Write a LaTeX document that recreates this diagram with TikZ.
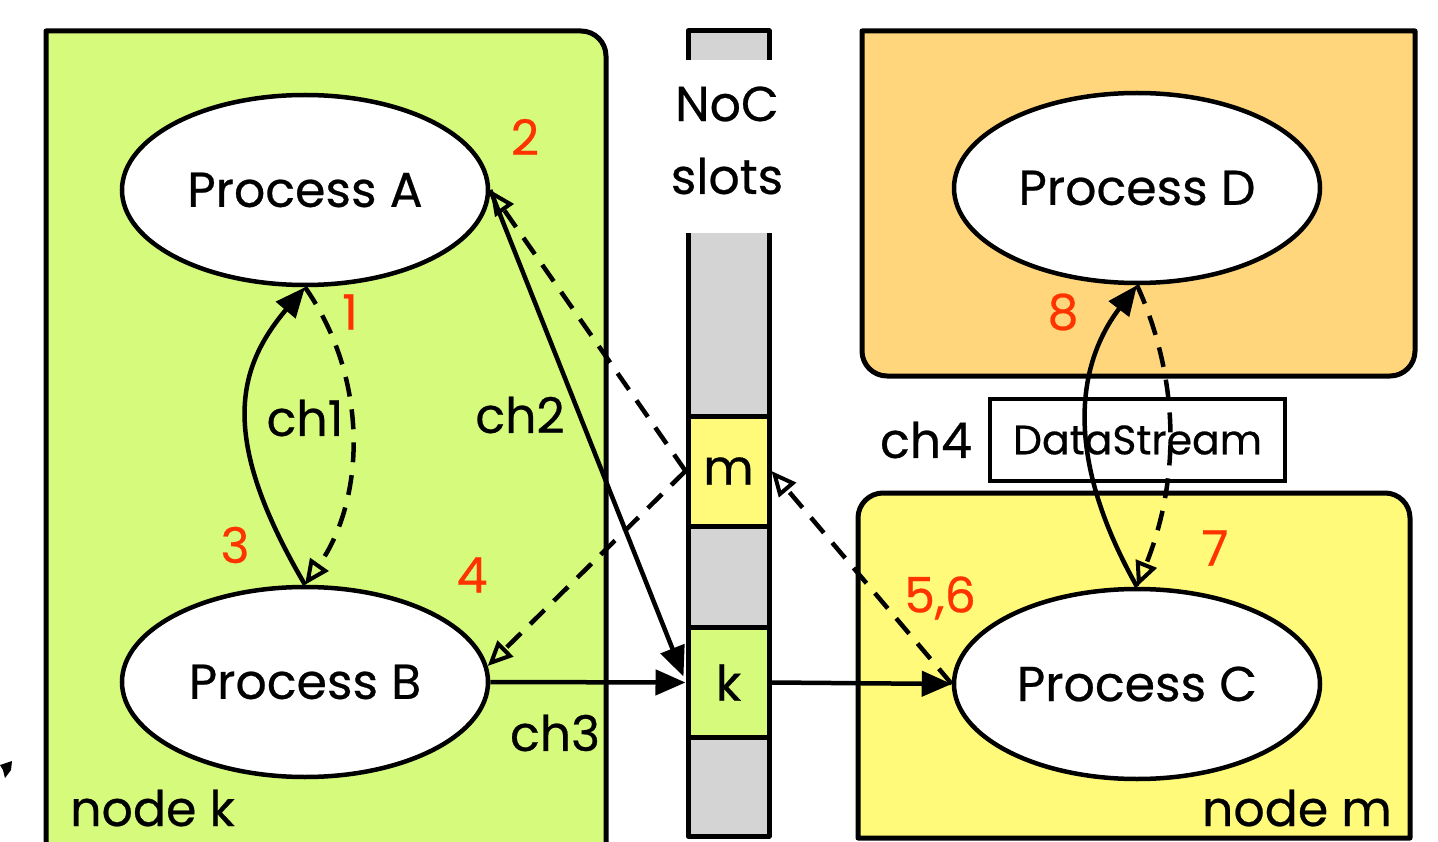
\documentclass[tikz,border=0pt]{standalone}
\usepackage{fontspec}
\setmainfont{Poppins}[FakeBold=0.5]
\usetikzlibrary{arrows.meta,shapes.geometric,calc}
\definecolor{gk}{RGB}{213,250,124}
\definecolor{ym}{RGB}{255,250,122}
\definecolor{od}{RGB}{255,214,124}
\definecolor{slot}{RGB}{212,212,212}
\definecolor{redl}{RGB}{255,51,0}
\tikzset{
  box/.style={line width=5pt, line join=round},
  proc/.style={ellipse, draw, line width=4.5pt, fill=white, minimum width=366pt, minimum height=190pt, inner sep=0pt, font=\fontsize{49}{54}\selectfont},
  cell/.style={rectangle, draw, line width=5pt, minimum width=81pt, minimum height=110pt, inner sep=0pt, font=\fontsize{49}{54}\selectfont},
  lbl/.style={font=\fontsize{49}{54}\selectfont, inner sep=0pt},
  num/.style={font=\fontsize{49}{54}\selectfont, text=redl, inner sep=0pt},
  sarr/.style={line width=4.5pt, -{Triangle[length=30pt,width=25pt]}},
  darr/.style={line width=4.5pt, dash pattern=on 20pt off 13pt, -{Triangle[open,length=25pt,width=22pt,line width=4pt]}},
}
\begin{document}
\begin{tikzpicture}[x=1pt,y=-1pt]
\useasboundingbox (0,0) rectangle (1438,842);
\clip (0,0) rectangle (1438,842);
% boxes
\draw[box, fill=gk] (46,900) -- (46,31) [rounded corners=25]-- (606,31) [sharp corners]-- (606,900) -- cycle;
\draw[box, fill=od] (862,31) -- (1415,31) [rounded corners=25]-- (1415,376) -- (862,376) [sharp corners]-- cycle;
\draw[box, fill=ym] (858,838) [rounded corners=25]-- (858,493) -- (1410,493) [sharp corners]-- (1410,838) -- cycle;
% NoC column
\fill[slot] (688,31) rectangle (769,60);
\draw[box] (688,60) -- (688,31) -- (769,31) -- (769,60);
\fill[slot] (688,233) rectangle (769,836);
\draw[box] (688,233) -- (688,836) -- (769,836) -- (769,233);
\node[cell, fill=ym] (m) at (728.5,471) {m};
\node[cell, fill=gk] (k) at (728.5,682.5) {k};
\node[lbl] (noc) at (727,104) {NoC};
\node[lbl] (slots) at (727,176) {slots};
% stray mark
\fill (0,765) -- (12,761) -- (11,770) -- (5,778) -- (3,770) -- cycle;
% processes
\node[proc] (A) at (305,190) {Process A};
\node[proc] (B) at (305,682) {Process B};
\node[proc] (D) at (1137,188) {Process D};
\node[proc] (C) at (1137,684) {Process C};
% DataStream
\node[draw, line width=4.5pt, fill=white, minimum width=295pt, minimum height=82pt, inner sep=0pt, font=\fontsize{41}{45}\selectfont] (ds) at (1137.5,440) {DataStream};
% connectors
\draw[sarr] (B.north) .. controls (220,440) and (235,370) .. (A.south);
\draw[darr] (A.south) .. controls (370,380) and (365,500) .. (B.north);
\draw[sarr] (A.east) -- ($(k.west)+(-2,-6)$);
\draw[darr] (m.west) -- (A.east);
\draw[darr] (m.west) -- (B.5);
\draw[sarr] (B.east) -- (k.west);
\draw[sarr] (k.east) -- (C.west);
\draw[darr] (C.west) -- (m.east);
\draw[sarr] (C.north) .. controls (1060,450) and (1080,360) .. (D.south);
\draw[darr] (D.south) .. controls (1180,380) and (1180,480) .. (C.north);
% labels
\node[lbl] (ch1) at (305,418) {ch1};
\node[lbl] (ch2) at (520,415) {ch2};
\node[lbl] (ch3) at (555,733) {ch3};
\node[lbl] (ch4) at (926,440) {ch4};
\node[num] (n1) at (350,312) {1};
\node[num] (n2) at (525,137) {2};
\node[num] (n3) at (235,545) {3};
\node[num] (n4) at (472,575) {4};
\node[num] (n56) at (940,598) {5,6};
\node[num] (n7) at (1215,548) {7};
\node[num] (n8) at (1063,312) {8};
\node[lbl, anchor=base west] (nk) at (70,826) {node k};
\node[lbl, anchor=base east] (nm) at (1392,826) {node m};
\end{tikzpicture}
\end{document}
